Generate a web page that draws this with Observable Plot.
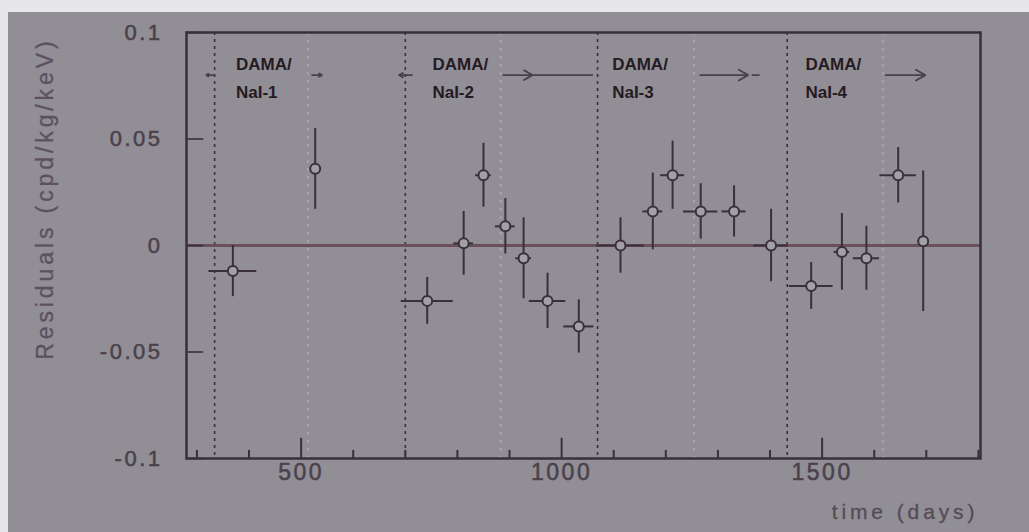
<!DOCTYPE html>
<html>
<head>
<meta charset="utf-8">
<script src="https://cdn.jsdelivr.net/npm/d3@7"></script>
<script src="https://cdn.jsdelivr.net/npm/@observablehq/plot@0.6"></script>
<style>
  html, body { margin: 0; padding: 0; background: #e7e6ea; }
  #sheet { position: absolute; left: 8px; top: 12px; width: 1021px; height: 520px; background: #918e95; overflow: hidden; }
  #sheet svg { font-family: "Liberation Sans", Arial, sans-serif; }
  g[aria-description="numbers"] text { letter-spacing: 2.5px; }
  g[aria-description="titles"] text { letter-spacing: 3.9px; }
</style>
</head>
<body>
<div id="sheet"></div>
<script>
// Residual rate (cpd/kg/keV) per data-taking interval, DAMA/NaI-1 to NaI-4
const days     = [369, 527, 742, 812, 850, 892, 927, 973, 1033, 1113, 1175, 1213, 1267, 1331, 1402, 1479, 1538, 1585, 1646, 1694];
const dayErr   = [46, 5, 50, 19, 15, 19, 15, 35, 29, 46, 19, 23, 33, 23, 33, 42, 15, 25, 35, 10];
const residual = [-0.012, 0.036, -0.026, 0.001, 0.033, 0.009, -0.006, -0.026, -0.038, 0.000, 0.016, 0.033, 0.016, 0.016, 0.000, -0.019, -0.003, -0.006, 0.033, 0.002];
const resErr   = [0.012, 0.019, 0.011, 0.015, 0.015, 0.013, 0.019, 0.013, 0.0125, 0.013, 0.018, 0.016, 0.013, 0.012, 0.017, 0.011, 0.018, 0.015, 0.013, 0.033];

// Running periods
const periodNames  = ["DAMA/\nNaI-1", "DAMA/\nNaI-2", "DAMA/\nNaI-3", "DAMA/\nNaI-4"];
const periodLabelX = [375, 752, 1097, 1468];
const periodStart  = [334, 700, 1069, 1433];
const periodMark   = [513, 883, 1254, 1617];

// Span arrows above the data
const arrowFrom = [333, 521, 713, 888, 1266, 1622];
const arrowTo   = [318, 540, 688, 944, 1358, 1698];
const lineFrom  = [944, 1366];
const lineTo    = [1061, 1381];
const arrowLevel = 0.08;

// Axes
const xDomain = [280, 1804];
const yDomain = [-0.1, 0.1];
const xMajor = [500, 1000, 1500];
const xMinor = [300, 400, 600, 700, 800, 900, 1100, 1200, 1300, 1400, 1600, 1700, 1800];
const yTicks = [-0.1, -0.05, 0, 0.05, 0.1];
const yTickLabels = ["-0.1", "-0.05", "0", "0.05", "0.1"];

const ink = "#3a3039";
const soft = "#4a414b";

const points = days.map((d, i) => ({
  day: d, dayErr: dayErr[i], value: residual[i], err: resErr[i]
}));
const arrows = arrowFrom.map((a, i) => ({from: a, to: arrowTo[i]}));
const lines = lineFrom.map((a, i) => ({from: a, to: lineTo[i]}));
const periods = periodNames.map((n, i) => ({name: n, x: periodLabelX[i]}));

const chart = Plot.plot({
  width: 1021,
  height: 520,
  marginLeft: 178,
  marginRight: 49,
  marginTop: 20,
  marginBottom: 74,
  style: {background: "transparent", overflow: "visible"},
  x: {domain: xDomain, axis: null},
  y: {domain: yDomain, axis: null},
  marks: [
    // faint markers inside each period
    Plot.ruleX(periodMark, {stroke: "#aeabb2", strokeWidth: 1.3, strokeDasharray: "3,5"}),
    // period boundaries
    Plot.ruleX(periodStart, {stroke: ink, strokeWidth: 1.6, strokeDasharray: "3,4"}),
    // zero level
    Plot.ruleY([0], {stroke: "#6b4f5b", strokeWidth: 3}),
    // inward ticks
    Plot.ruleY(yTicks, {x1: xDomain[0], x2: 313, stroke: ink, strokeWidth: 1.6}),
    Plot.ruleX(xMajor, {y1: -0.1, y2: -0.0905, stroke: ink, strokeWidth: 2}),
    Plot.ruleX(xMinor, {y1: -0.1, y2: -0.0962, stroke: ink, strokeWidth: 2}),
    // period spans
    Plot.arrow(arrows, {x1: "from", x2: "to", y1: arrowLevel, y2: arrowLevel, stroke: soft, strokeWidth: 1.8, headLength: 9}),
    Plot.ruleY(lines, {x1: "from", x2: "to", y: arrowLevel, stroke: soft, strokeWidth: 1.8}),
    Plot.text(periods, {
      x: "x", y: arrowLevel, text: "name", textAnchor: "start", lineAnchor: "middle",
      lineHeight: 1.65, fontSize: 17, fontWeight: "bold", fill: "#251b23"
    }),
    // error bars and points
    Plot.ruleX(points, {x: "day", y1: d => d.value - d.err, y2: d => d.value + d.err, stroke: ink, strokeWidth: 2}),
    Plot.ruleY(points, {y: "value", x1: d => d.day - d.dayErr, x2: d => d.day + d.dayErr, stroke: ink, strokeWidth: 2}),
    Plot.dot(points, {x: "day", y: "value", r: 5, fill: "#a29fa6", stroke: ink, strokeWidth: 2}),
    Plot.frame({stroke: ink, strokeWidth: 2.5}),
    // tick labels
    Plot.text(yTicks, {
      x: xDomain[0], y: d => d, text: (d, i) => yTickLabels[i], textAnchor: "end", dx: -24,
      fontSize: 22, fill: soft, stroke: soft, strokeWidth: 0.5, ariaDescription: "numbers"
    }),
    Plot.text(xMajor, {
      x: d => d, y: -0.1, text: d => String(d), lineAnchor: "top", dy: 5,
      fontSize: 23, fill: soft, stroke: soft, strokeWidth: 0.5, ariaDescription: "numbers"
    }),
    // axis titles
    Plot.text(["time (days)"], {
      x: 1800, y: -0.1, text: d => d, textAnchor: "end", lineAnchor: "top", dy: 46,
      fontSize: 21, fill: "#554c56", stroke: "#554c56", strokeWidth: 0.3, ariaDescription: "titles"
    }),
    Plot.text(["Residuals (cpd/kg/keV)"], {
      x: xDomain[0], y: 0.022, text: d => d, rotate: -90, dx: -141,
      fontSize: 23, fill: "#5c5160", stroke: "#5c5160", strokeWidth: 0.3, ariaDescription: "titles"
    })
  ]
});

document.getElementById("sheet").append(chart);
</script>
</body>
</html>
